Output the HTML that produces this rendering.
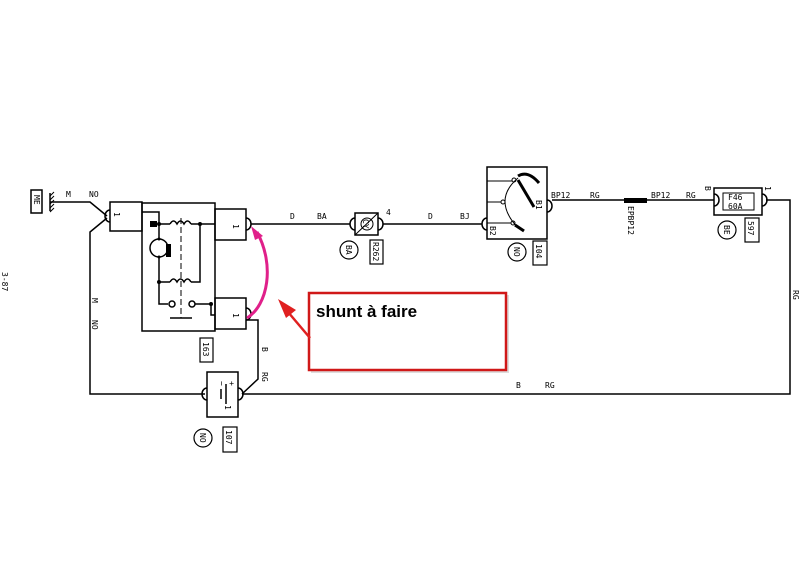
<!DOCTYPE html>
<html><head><meta charset="utf-8"><style>
html,body{margin:0;padding:0;background:#fff;}
svg{display:block;}
text{font-family:"DejaVu Sans Mono","Liberation Mono",monospace;font-size:8px;fill:#000;}
</style></head><body>
<svg width="806" height="565" viewBox="0 0 806 565" xmlns="http://www.w3.org/2000/svg">
<g fill="none" stroke="#000" stroke-width="1.5">
<rect x="31" y="190" width="11" height="23"/>
<line x1="50" y1="193" x2="50" y2="211"/>
<path d="M50 196l4-4M50 200l4-4M50 204l4-4M50 208l4-4M50 212l4-4" stroke-width="1"/>
<polyline points="50,202 90,202 107,216"/>
<polyline points="107,218 90,232 90,394 205,394"/>
<rect x="110" y="202" width="32" height="29"/>
<path d="M110 210a5 6 0 0 0 0 12"/>
<rect x="142" y="203" width="73" height="128"/>
<rect x="215" y="209" width="31" height="31"/>
<rect x="215" y="298" width="31" height="31"/>
<path d="M246 218a5 6 0 0 1 0 12"/>
<path d="M246 308a5 6 0 0 1 0 12"/>
<polyline points="142,212 159,212 159,239"/>
<line x1="159" y1="224" x2="170" y2="224"/>
<path d="M170 224q3.5-6 7 0q3.5-6 7 0q3.5-6 7 0" />
<polyline points="191,224 215,224"/>
<circle cx="159" cy="248" r="9"/>
<polyline points="159,257 159,304 168,304"/>
<line x1="159" y1="282" x2="170" y2="282"/>
<path d="M170 282q3.5-6 7 0q3.5-6 7 0q3.5-6 7 0"/>
<polyline points="191,282 200,282 200,224"/>
<circle cx="172" cy="304" r="3"/>
<circle cx="192" cy="304" r="3"/>
<polyline points="195,304 211,304 211,315 215,315"/>
<line x1="181" y1="218" x2="181" y2="318" stroke-dasharray="6,3" stroke-width="1"/>
<line x1="170" y1="318" x2="192" y2="318"/>
<rect x="207" y="372" width="31" height="45"/>
<path d="M207 388a5 6 0 0 0 0 12"/>
<path d="M238 388a5 6 0 0 1 0 12"/>
<line x1="226" y1="384" x2="226" y2="404"/>
<line x1="221" y1="389" x2="221" y2="399"/>
<polyline points="246,320 258,320 258,379 242,394"/>
<polyline points="242,394 790,394 790,200 766,200"/>
<rect x="200" y="338" width="13" height="24" stroke-width="1.2"/>
<rect x="223" y="427" width="14" height="25" stroke-width="1.2"/>
<circle cx="203" cy="438" r="9" stroke-width="1.2"/>
<line x1="251" y1="224" x2="350" y2="224"/>
<rect x="355" y="213" width="23" height="22"/>
<path d="M355 218a5 6 0 0 0 0 12"/>
<path d="M378 218a5 6 0 0 1 0 12"/>
<line x1="355" y1="235" x2="378" y2="213" stroke-width="1"/>
<circle cx="367" cy="224" r="6" stroke-width="1"/>
<line x1="383" y1="224" x2="482" y2="224"/>
<circle cx="349" cy="250" r="9" stroke-width="1.2"/>
<rect x="370" y="240" width="13" height="24" stroke-width="1.2"/>
<rect x="487" y="167" width="60" height="72"/>
<path d="M487 218a5 6 0 0 0 0 12"/>
<path d="M547 200a5 6 0 0 1 0 12"/>
<line x1="487" y1="181" x2="512" y2="181" stroke-width="1"/>
<line x1="487" y1="202" x2="501" y2="202" stroke-width="1"/>
<line x1="487" y1="223" x2="511" y2="223" stroke-width="1"/>
<path d="M518 178q-26 22 0 50" stroke-width="1"/>
<circle cx="514" cy="180" r="2" stroke-width="1"/>
<circle cx="503" cy="202" r="2" stroke-width="1"/>
<circle cx="513" cy="223" r="2" stroke-width="1"/>
<path d="M518 176q10-6 21 7" stroke-width="3"/>
<line x1="518" y1="180" x2="534" y2="207" stroke-width="3"/>
<line x1="515" y1="225" x2="524" y2="231" stroke-width="3"/>
<rect x="533" y="241" width="14" height="24" stroke-width="1.2"/>
<circle cx="517" cy="252" r="9" stroke-width="1.2"/>
<line x1="552" y1="200" x2="714" y2="200"/>
<rect x="714" y="188" width="48" height="27"/>
<rect x="723" y="193" width="31" height="17" stroke-width="1"/>
<path d="M714 194a5 6 0 0 1 0 12"/>
<path d="M762 194a5 6 0 0 1 0 12"/>
<rect x="745" y="218" width="14" height="24" stroke-width="1.2"/>
<circle cx="727" cy="230" r="9" stroke-width="1.2"/>
</g>
<g fill="#000">
<circle cx="159" cy="224" r="2"/><circle cx="200" cy="224" r="2"/>
<circle cx="159" cy="282" r="2"/><circle cx="211" cy="304" r="2"/>
<circle cx="159" cy="239" r="1.5"/><circle cx="159" cy="257" r="1.5"/>
</g>
<rect x="150" y="221" width="7" height="6" fill="#000"/>
<rect x="166" y="244" width="5" height="13" fill="#000"/>
<rect x="624" y="198" width="23" height="5" fill="#000"/>
<text x="66" y="197">M</text><text x="89" y="197">NO</text>
<text x="290" y="219">D</text><text x="317" y="219">BA</text>
<text x="428" y="219">D</text><text x="460" y="219">BJ</text>
<text x="386" y="215">4</text>
<text x="551" y="198">BP12</text><text x="590" y="198">RG</text>
<text x="651" y="198">BP12</text><text x="686" y="198">RG</text>
<text x="516" y="388">B</text><text x="545" y="388">RG</text>
<text x="728" y="200" font-size="9">F46</text><text x="728" y="209" font-size="9">60A</text>
<g font-size="8">
<text transform="translate(114,212) rotate(90)">1</text>
<text transform="translate(233,224) rotate(90)">1</text>
<text transform="translate(233,313) rotate(90)">1</text>
<text transform="translate(225,405) rotate(90)">1</text>
<text transform="translate(229,381) rotate(90)">+</text>
<text transform="translate(219,381) rotate(90)">−</text>
<text transform="translate(34,195) rotate(90)">ME</text>
<text transform="translate(92,298) rotate(90)">M</text>
<text transform="translate(92,320) rotate(90)">NO</text>
<text transform="translate(262,347) rotate(90)">B</text>
<text transform="translate(262,372) rotate(90)">RG</text>
<text transform="translate(203,342) rotate(90)">163</text>
<text transform="translate(226,430) rotate(90)">107</text>
<text transform="translate(200,433) rotate(90)">NO</text>
<text transform="translate(346,245) rotate(90)">BA</text>
<text transform="translate(373,242) rotate(90)">R262</text>
<text transform="translate(363,219) rotate(90)" font-size="7">CY</text>
<text transform="translate(536,244) rotate(90)">104</text>
<text transform="translate(514,247) rotate(90)">NO</text>
<text transform="translate(536,200) rotate(90)">B1</text>
<text transform="translate(490,226) rotate(90)">B2</text>
<text transform="translate(628,206) rotate(90)">EPBP12</text>
<text transform="translate(748,221) rotate(90)">597</text>
<text transform="translate(724,225) rotate(90)">BE</text>
<text transform="translate(705,186) rotate(90)">B</text>
<text transform="translate(765,186) rotate(90)">1</text>
<text transform="translate(793,290) rotate(90)">RG</text>
<text transform="translate(2,272) rotate(90)" font-size="11">3-87</text>
</g>
<path d="M247 318 C268 305 275 265 257 232" fill="none" stroke="#e0208a" stroke-width="3"/>
<path d="M251 226 L263 236 L255 240 Z" fill="#e0208a"/>
<rect x="311" y="295" width="198" height="78" fill="#bbb" opacity="0.5"/>
<rect x="309" y="293" width="197" height="77" fill="#fff" stroke="#d01818" stroke-width="2.5"/>
<text x="316" y="317" style="font-family:'Liberation Sans',sans-serif;font-size:17px;font-weight:bold">shunt à faire</text>
<line x1="310" y1="338" x2="288" y2="312" stroke="#e02020" stroke-width="2.5"/>
<path d="M278 299 L296 310 L286 318 Z" fill="#e02020"/>
</svg>
</body></html>
